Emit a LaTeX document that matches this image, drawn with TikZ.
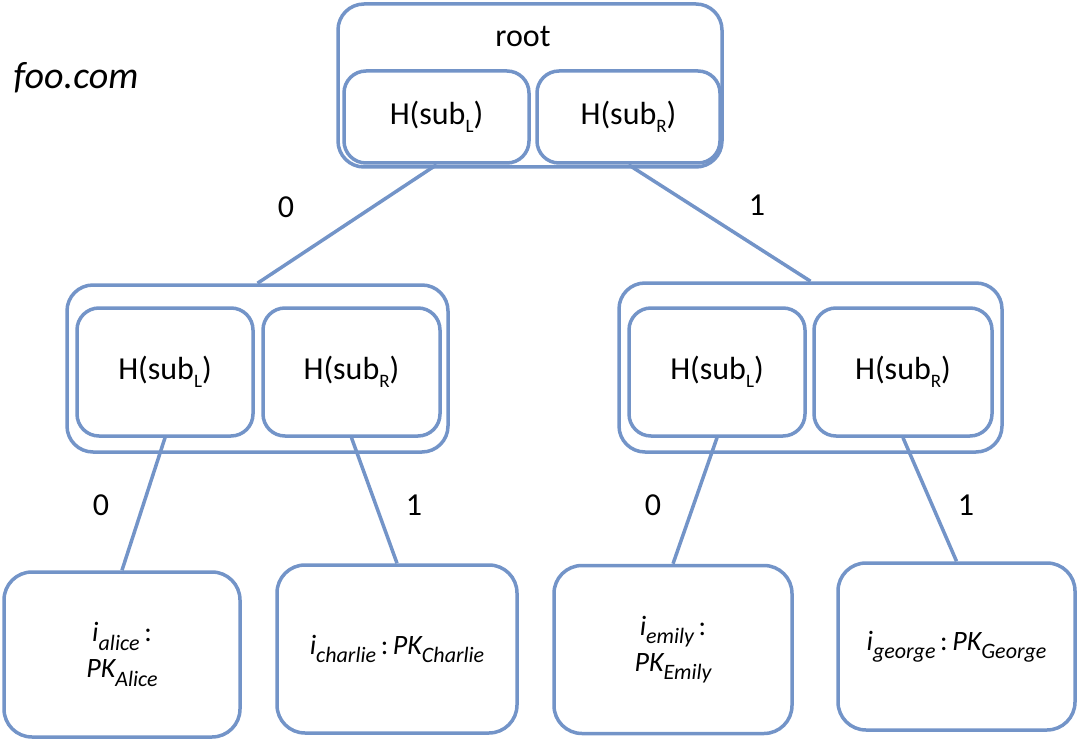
\documentclass[tikz,border=0pt]{standalone}
\usepackage{fontspec}
\setmainfont{Carlito}
\definecolor{treeblue}{RGB}{115,148,200}
\newcommand{\lowtxt}[3]{\raisebox{-#3}{\fontsize{#1}{#1}\selectfont #2}}
\tikzset{
  box/.style={draw=treeblue, line width=3.5pt, inner sep=0pt},
  outerbox/.style={box, rounded corners=26pt},
  hashbox/.style={box, rounded corners=22pt, minimum height=128pt,
    font=\fontsize{32}{36}\selectfont},
  leafbox/.style={box, rounded corners=28pt, align=center,
    font=\fontsize{28}{36}\selectfont\itshape},
  bit/.style={font=\fontsize{32}{36}\selectfont},
  edge/.style={draw=treeblue, line width=3.5pt}
}
\begin{document}
\begin{tikzpicture}[x=1pt,y=-1pt]
\useasboundingbox (0,0) rectangle (1079,741);
    \node(domain) at (76,78) {\fontsize{38}{42}\selectfont\itshape foo.com};

    \node[outerbox, minimum width=384pt, minimum height=163pt](rootbox) at (530,85.5) {};
    \node(rootlbl) at (523,37) {\fontsize{32}{36}\selectfont root};
    \node[hashbox, minimum width=185pt, minimum height=92pt](rootL) at (436.5,117) {H(sub\lowtxt{19}{L}{0.25em})};
    \node[hashbox, minimum width=183pt, minimum height=92pt](rootR) at (628.5,117) {H(sub\lowtxt{19}{R}{0.25em})};

    \node[outerbox, minimum width=381pt, minimum height=167pt](midL) at (257.5,368.5) {};
    \node[hashbox, minimum width=176pt](midLL) at (165,372) {H(sub\lowtxt{19}{L}{0.25em})};
    \node[hashbox, minimum width=177pt](midLR) at (351.5,372) {H(sub\lowtxt{19}{R}{0.25em})};

    \node[outerbox, minimum width=383pt, minimum height=169pt](midR) at (810.5,367.5) {};
    \node[hashbox, minimum width=176pt](midRL) at (717,372) {H(sub\lowtxt{19}{L}{0.25em})};
    \node[hashbox, minimum width=178pt](midRR) at (903,372) {H(sub\lowtxt{19}{R}{0.25em})};

    \node[leafbox, minimum width=236pt, minimum height=165pt](alice)   at (122,654.5) {i\lowtxt{22}{alice}{0.3em}\,\upshape:\\PK\lowtxt{22}{Alice}{0.3em}};
    \node[leafbox, minimum width=240pt, minimum height=168pt](charlie) at (397,649) {i\lowtxt{22}{charlie}{0.3em}\,\upshape:\,\itshape PK\lowtxt{22}{Charlie}{0.3em}};
    \node[leafbox, minimum width=238pt, minimum height=168pt](emily)   at (673,649.5) {i\lowtxt{22}{emily}{0.3em}\,\upshape:\\PK\lowtxt{22}{Emily}{0.3em}};
    \node[leafbox, minimum width=237pt, minimum height=167pt](george)  at (956.5,646.5) {i\lowtxt{22}{george}{0.3em}\,\upshape:\,\itshape PK\lowtxt{22}{George}{0.3em}};

    \node[bit](b0)   at (286,207) {0};
    \node[bit](b1)   at (757,205) {1};
    \node[bit](b00)  at (101,505) {0};
    \node[bit](b01)  at (414,505) {1};
    \node[bit](b10)  at (653,505) {0};
    \node[bit](b11)  at (966,505) {1};

    \draw[edge] (rootL.south) to (midL.north);
    \draw[edge] (rootR.south) to (midR.north);
    \draw[edge] (midLL.south) to (alice.north);
    \draw[edge] (midLR.south) to (charlie.north);
    \draw[edge] (midRL.south) to (emily.north);
    \draw[edge] (midRR.south) to (george.north);
\end{tikzpicture}
\end{document}
